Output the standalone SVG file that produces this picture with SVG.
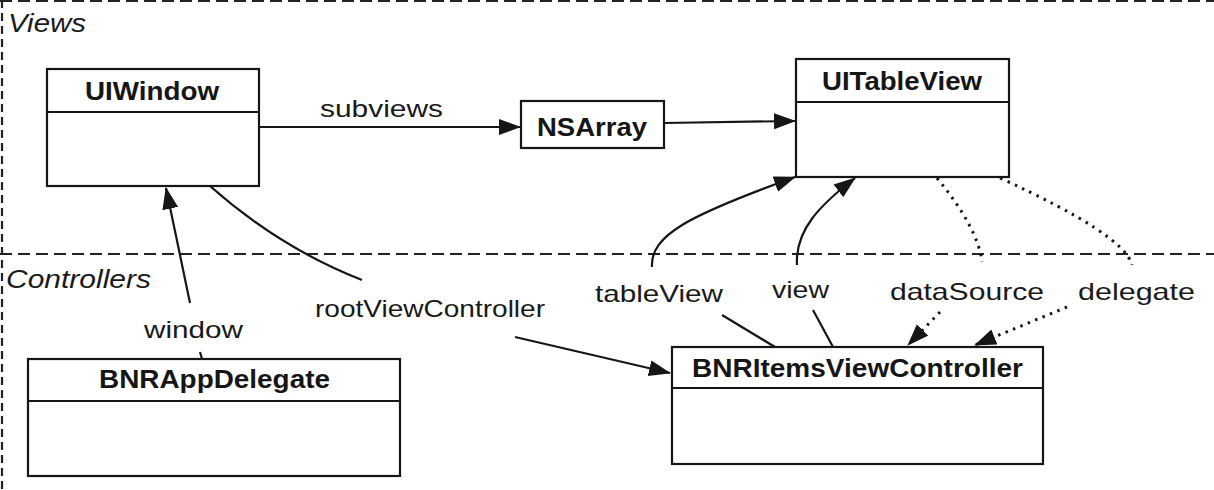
<svg xmlns="http://www.w3.org/2000/svg" width="1214" height="490" viewBox="0 0 1214 490">
<style>
  .box { fill: #ffffff; stroke: #161616; stroke-width: 2.2; }
  .div { stroke: #161616; stroke-width: 2.2; }
  .title { font-family: "Liberation Sans", Arial, sans-serif; font-weight: bold; font-size: 25px; fill: #161616; text-anchor: start; }
  .lbl { font-family: "Liberation Sans", Arial, sans-serif; font-size: 24px; fill: #1a1a1a; }
  .zone { font-family: "Liberation Sans", Arial, sans-serif; font-style: italic; font-size: 26px; fill: #1a1a1a; }
  .sep { stroke: #222; stroke-width: 2.2; stroke-dasharray: 12 6; fill: none; }
  .edge { stroke: #161616; stroke-width: 2.2; fill: none; }
  .dot { stroke: #161616; stroke-width: 3; fill: none; stroke-dasharray: 2.5 5.5; stroke-linecap: butt; }
</style>
<defs>
  <marker id="arr" markerUnits="userSpaceOnUse" markerWidth="24" markerHeight="18" refX="21" refY="8" orient="auto">
    <path d="M0,0 L22,8 L0,16 z" fill="#161616" stroke="none"/>
  </marker>
</defs>

<g id="zones">
  <line class="sep" x1="0" y1="1" x2="1214" y2="1"/>
  <line class="sep" x1="2" y1="0" x2="2" y2="490" style="stroke-dasharray: 8 5"/>
  <line class="sep" x1="0" y1="254" x2="1214" y2="254"/>
  <text class="zone" x="8" y="32" textLength="78" lengthAdjust="spacingAndGlyphs">Views</text>
  <text class="zone" x="6" y="288" textLength="145" lengthAdjust="spacingAndGlyphs">Controllers</text>
</g>

<g id="connectors">
  <line class="edge" x1="259" y1="127" x2="520" y2="127" marker-end="url(#arr)"/>
  <line class="edge" x1="664" y1="123" x2="795" y2="121" marker-end="url(#arr)"/>
  <path class="edge" d="M652,267 C650,235 690,215 795,177" marker-end="url(#arr)"/>
  <path class="edge" d="M797,265 C795,230 820,205 855,178" marker-end="url(#arr)"/>
  <line class="edge" x1="190" y1="303" x2="166" y2="188" marker-end="url(#arr)"/>
  <line class="edge" x1="200" y1="352" x2="202" y2="359"/>
  <path class="edge" d="M210,186 Q280,248 362,280"/>
  <line class="edge" x1="515" y1="337" x2="670" y2="373" marker-end="url(#arr)"/>
  <line class="edge" x1="722" y1="315" x2="775" y2="347"/>
  <line class="edge" x1="813" y1="310" x2="833" y2="347"/>
  <path class="dot" d="M937,178 Q978,228 982,262"/>
  <path class="dot" d="M1000,178 Q1125,235 1132,265"/>
  <path class="dot" d="M940,312 L908,345" marker-end="url(#arr)"/>
  <path class="dot" d="M1067,307 L975,345" marker-end="url(#arr)"/>
  <text class="lbl" x="320" y="117" textLength="123" lengthAdjust="spacingAndGlyphs">subviews</text>
  <text class="lbl" x="144" y="338" textLength="99" lengthAdjust="spacingAndGlyphs">window</text>
  <text class="lbl" x="315" y="317" textLength="230" lengthAdjust="spacingAndGlyphs">rootViewController</text>
  <text class="lbl" x="595" y="302" textLength="128" lengthAdjust="spacingAndGlyphs">tableView</text>
  <text class="lbl" x="772" y="298" textLength="57" lengthAdjust="spacingAndGlyphs">view</text>
  <text class="lbl" x="890" y="300" textLength="154" lengthAdjust="spacingAndGlyphs">dataSource</text>
  <text class="lbl" x="1078" y="300" textLength="117" lengthAdjust="spacingAndGlyphs">delegate</text>
</g>

<g id="UIWindow">
  <rect class="box" x="47" y="69" width="212" height="117"/>
  <line class="div" x1="47" y1="112" x2="259" y2="112"/>
  <text class="title" x="85" y="100" textLength="134" lengthAdjust="spacingAndGlyphs">UIWindow</text>
</g>

<g id="NSArray">
  <rect class="box" x="521" y="101" width="143" height="47"/>
  <text class="title" x="537" y="136" textLength="110" lengthAdjust="spacingAndGlyphs">NSArray</text>
</g>

<g id="UITableView">
  <rect class="box" x="796" y="59" width="213" height="118"/>
  <line class="div" x1="796" y1="102" x2="1009" y2="102"/>
  <text class="title" x="822" y="90" textLength="160" lengthAdjust="spacingAndGlyphs">UITableView</text>
</g>

<g id="BNRAppDelegate">
  <rect class="box" x="28" y="359" width="372" height="117"/>
  <line class="div" x1="28" y1="401" x2="400" y2="401"/>
  <text class="title" x="99" y="388" textLength="231" lengthAdjust="spacingAndGlyphs">BNRAppDelegate</text>
</g>

<g id="BNRItemsViewController">
  <rect class="box" x="672" y="347" width="371" height="117"/>
  <line class="div" x1="672" y1="388" x2="1043" y2="388"/>
  <text class="title" x="692" y="377" textLength="331" lengthAdjust="spacingAndGlyphs">BNRItemsViewController</text>
</g>
</svg>
